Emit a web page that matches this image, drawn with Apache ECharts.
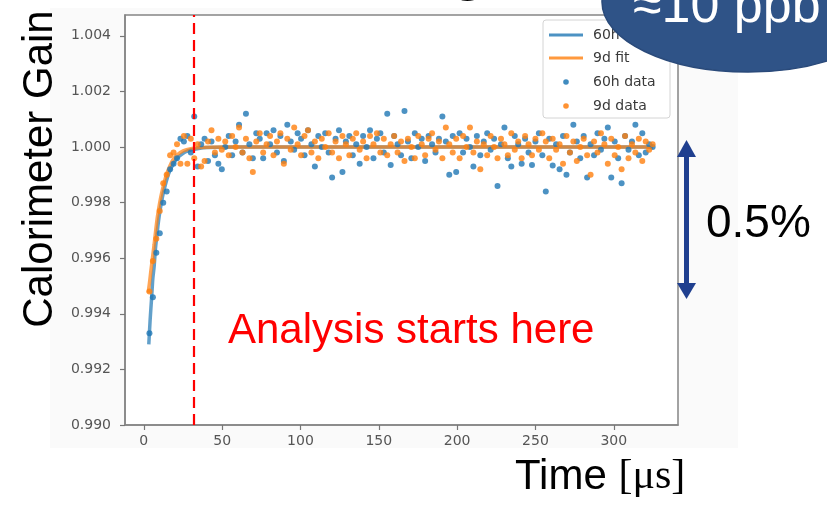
<!DOCTYPE html>
<html>
<head>
<meta charset="utf-8">
<script src="https://cdn.jsdelivr.net/npm/echarts@6/dist/echarts.min.js"></script>
<style>
  html, body { margin: 0; padding: 0; background: #ffffff; }
  #chart { width: 827px; height: 505px; }
</style>
</head>
<body>
<div id="chart"></div>
<script>
// Bin centres (µs) shared by both calibration runs
const times = [3.6, 5.8, 8.0, 10.2, 12.4, 14.6, 16.8, 19.0, 21.2, 23.4, 25.6, 27.8, 30.0, 32.2, 34.4, 36.6, 38.8, 41.0, 43.2, 45.4,
  47.6, 49.8, 52.0, 54.2, 56.4, 58.6, 60.8, 63.0, 65.2, 67.4, 69.6, 71.8, 74.0, 76.2, 78.4, 80.6, 82.8, 85.0, 87.2, 89.4,
  91.6, 93.8, 96.0, 98.2, 100.4, 102.6, 104.8, 107.0, 109.2, 111.4, 113.6, 115.8, 118.0, 120.2, 122.4, 124.6, 126.8, 129.0, 131.2, 133.4,
  135.6, 137.8, 140.0, 142.2, 144.4, 146.6, 148.8, 151.0, 153.2, 155.4, 157.6, 159.8, 162.0, 164.2, 166.4, 168.6, 170.8, 173.0, 175.2, 177.4,
  179.6, 181.8, 184.0, 186.2, 188.4, 190.6, 192.8, 195.0, 197.2, 199.4, 201.6, 203.8, 206.0, 208.2, 210.4, 212.6, 214.8, 217.0, 219.2, 221.4,
  223.6, 225.8, 228.0, 230.2, 232.4, 234.6, 236.8, 239.0, 241.2, 243.4, 245.6, 247.8, 250.0, 252.2, 254.4, 256.6, 258.8, 261.0, 263.2, 265.4,
  267.6, 269.8, 272.0, 274.2, 276.4, 278.6, 280.8, 283.0, 285.2, 287.4, 289.6, 291.8, 294.0, 296.2, 298.4, 300.6, 302.8, 305.0, 307.2, 309.4,
  311.6, 313.8, 316.0, 318.2, 320.4, 322.6, 324.8];

// Relative gain per bin, 60 h dataset
const gain60h = [0.9933, 0.9946, 0.9962, 0.9969, 0.9980, 0.9984, 0.9992, 0.9994, 0.9996, 1.0003, 1.0002, 1.0004, 0.9998, 1.0011, 0.9993, 1.0001, 1.0003, 0.9995, 1.0002, 0.9997,
  0.9994, 0.9992, 1.0000, 1.0004, 0.9997, 1.0002, 1.0008, 0.9998, 1.0012, 1.0001, 0.9996, 1.0005, 1.0003, 0.9996, 1.0005, 1.0001, 1.0006, 0.9998, 1.0004, 0.9995,
  1.0008, 1.0002, 0.9999, 1.0005, 1.0003, 0.9997, 1.0006, 1.0001, 0.9993, 1.0004, 1.0000, 1.0005, 0.9998, 0.9989, 1.0003, 1.0006, 0.9991, 1.0002, 1.0004, 0.9997,
  1.0001, 0.9994, 1.0004, 1.0000, 1.0006, 0.9996, 1.0003, 1.0005, 0.9998, 1.0012, 0.99935, 1.0004, 1.0001, 0.9997, 1.0013, 1.0002, 0.9996, 1.0005, 1.0000, 1.0003,
  0.9995, 1.0004, 1.0001, 0.9998, 1.0003, 1.0011, 1.0002, 0.9990, 1.0004, 0.9991, 1.0005, 0.9998, 1.0003, 1.0000, 0.9993, 1.0004, 0.9997, 1.0002, 1.0005, 0.9999,
  1.0003, 0.9986, 1.0001, 1.0007, 0.9996, 0.9993, 1.0004, 1.0001, 0.9994, 1.0003, 0.9998, 0.99935, 1.0002, 1.0005, 0.9997, 0.9984, 1.0003, 0.99934, 1.0001, 0.9992,
  1.0004, 0.9990, 0.9998, 1.0008, 1.0002, 0.9996, 1.0004, 0.9989, 1.0001, 0.9997, 1.0005, 0.9999, 1.0003, 1.0007, 0.9989, 1.0002, 0.9996, 0.9987, 1.0004, 0.9999,
  1.0002, 1.0008, 0.9997, 1.0005, 0.9998, 1.0001, 1.0000];

// Relative gain per bin, 9 d dataset
const gain9d = [0.9948, 0.9959, 0.9967, 0.9977, 0.9987, 0.9990, 0.9997, 0.9998, 1.0001, 0.9994, 1.0004, 0.9994, 1.0003, 0.9996, 1.0001, 0.9993, 0.9995, 1.0002, 1.0006, 0.9998,
  1.0003, 0.9999, 1.0002, 0.9997, 1.0004, 1.0000, 1.0007, 0.9998, 1.0003, 0.9996, 0.9991, 1.0002, 1.0005, 0.9998, 1.0001, 1.0004, 0.9997, 1.0002, 1.0005, 0.9994,
  1.0003, 0.9999, 1.0007, 1.0001, 0.9997, 1.0004, 1.0006, 0.9998, 1.0002, 0.9996, 1.0003, 1.0000, 1.0005, 0.9998, 1.0002, 0.9996, 1.0004, 1.0001, 0.9997, 1.0003,
  1.0005, 0.9999, 1.0002, 0.9996, 1.0004, 1.0001, 1.0005, 0.9998, 1.0003, 0.9997, 1.0001, 1.0004, 0.9998, 1.0002, 0.9995, 1.0003, 1.0000, 0.9996, 1.0004, 1.0001,
  0.9997, 1.0003, 1.0005, 0.9999, 1.0002, 0.9996, 1.0007, 1.0001, 0.9998, 1.0003, 0.9996, 1.0004, 1.0000, 1.0007, 0.9998, 1.0002, 0.9992, 1.0001, 0.9997, 1.0004,
  1.0000, 0.9996, 1.0003, 1.0001, 0.9997, 1.0005, 0.9999, 1.0002, 0.9996, 1.0004, 1.0001, 0.9997, 1.0003, 0.9999, 1.0005, 1.0002, 0.9996, 1.0003, 0.9999, 1.0001,
  0.9994, 1.0004, 0.9998, 1.0002, 0.9995, 1.0000, 1.0003, 0.9997, 0.9990, 1.0002, 0.9998, 1.0005, 1.0001, 0.9994, 1.0003, 0.9997, 1.0000, 0.9992, 1.0004, 0.9996,
  1.0001, 0.9998, 1.0003, 0.9995, 1.0002, 0.9999, 1.0001];

// Fitted recovery curves
const fit60hTimes = [3.2, 4.0, 4.9, 5.8, 6.6, 7.4, 8.1, 9.0, 9.8, 10.6, 11.3, 12.4, 13.4, 15.0, 16.6, 18.5, 20.0, 21.9, 24.0, 26.5, 30.4, 35.0, 40.0, 60.0, 325.0];
const fit60hGain = [0.99290, 0.99374, 0.99450, 0.99529, 0.99570, 0.99632, 0.99670, 0.99715, 0.99750, 0.99779, 0.99802, 0.99833, 0.99856, 0.99889, 0.99914, 0.99936, 0.99950, 0.99963, 0.99973, 0.99982, 0.99990, 0.99995, 0.99998, 1.00000, 1.00000];
const fit9dTimes = [2.8, 3.6, 4.5, 5.5, 6.6, 7.6, 8.7, 10.0, 11.3, 12.9, 14.5, 16.5, 18.7, 21.5, 25.1, 30.0, 36.0, 50.0, 323.0];
const fit9dGain = [0.99476, 0.99510, 0.99554, 0.99600, 0.99650, 0.99700, 0.99750, 0.99795, 0.99832, 0.99870, 0.99902, 0.99930, 0.99955, 0.99973, 0.99986, 0.99994, 0.99998, 1.00000, 1.00000];

const xTicks = [0, 50, 100, 150, 200, 250, 300];
const yTicks = [0.990, 0.992, 0.994, 0.996, 0.998, 1.000, 1.002, 1.004];
const analysisStart = 32;

const pairs = (xs, ys) => xs.map((x, i) => [x, ys[i]]);

const C_BLUE = '#1f77b4';
const C_ORANGE = '#ff7f0e';
const TICK_FONT = 'DejaVu Sans';

const chart = echarts.init(document.getElementById('chart'), null, { renderer: 'canvas' });

const legendItems = [
  { label: '60h fit', kind: 'line', color: C_BLUE, y: 35 },
  { label: '9d fit', kind: 'line', color: C_ORANGE, y: 58 },
  { label: '60h data', kind: 'dot', color: C_BLUE, y: 82 },
  { label: '9d data', kind: 'dot', color: C_ORANGE, y: 106 }
];

const legendGraphics = [{
  type: 'rect', z: 20,
  shape: { x: 543, y: 20, width: 127, height: 98, r: 3 },
  style: { fill: 'rgba(255,255,255,0.85)', stroke: '#d4d4d4', lineWidth: 1 }
}];
legendItems.forEach(it => {
  if (it.kind === 'line') {
    legendGraphics.push({
      type: 'line', z: 21,
      shape: { x1: 549, y1: it.y, x2: 583, y2: it.y },
      style: { stroke: it.color, lineWidth: 3, opacity: 0.8 }
    });
  } else {
    legendGraphics.push({
      type: 'circle', z: 21,
      shape: { cx: 566, cy: it.y, r: 2.8 },
      style: { fill: it.color, opacity: 0.85 }
    });
  }
  legendGraphics.push({
    type: 'text', z: 21, x: 593, y: it.y,
    style: { text: it.label, fill: '#3a3a3a', fontSize: 14, fontFamily: TICK_FONT, align: 'left', verticalAlign: 'middle' }
  });
});

const option = {
  animation: false,
  backgroundColor: '#ffffff',
  grid: {
    left: 125, right: 149, top: 15, bottom: 80,
    show: true, backgroundColor: '#ffffff', borderColor: '#858585', borderWidth: 1.5
  },
  xAxis: {
    type: 'value', min: -12, max: 341,
    axisLine: { show: true, onZero: false, lineStyle: { color: '#858585', width: 1.5 } },
    axisTick: { show: true, length: 5, customValues: xTicks, lineStyle: { color: '#777', width: 1.2 } },
    axisLabel: { customValues: xTicks, color: '#555', fontSize: 14, fontFamily: TICK_FONT, margin: 9 },
    splitLine: { show: false }
  },
  yAxis: {
    type: 'value', min: 0.990, max: 1.00475,
    axisLine: { show: true, onZero: false, lineStyle: { color: '#858585', width: 1.5 } },
    axisTick: { show: true, length: 5, customValues: yTicks, lineStyle: { color: '#777', width: 1.2 } },
    axisLabel: { customValues: yTicks, color: '#555', fontSize: 14, fontFamily: TICK_FONT, margin: 14,
      formatter: v => v.toFixed(3) },
    splitLine: { show: false }
  },
  series: [
    {
      name: '60h fit', type: 'line', data: pairs(fit60hTimes, fit60hGain),
      showSymbol: false, smooth: 0.3, z: 3,
      lineStyle: { color: C_BLUE, width: 3.5, opacity: 0.7 }
    },
    {
      name: '9d fit', type: 'line', data: pairs(fit9dTimes, fit9dGain),
      showSymbol: false, smooth: 0.3, z: 3,
      lineStyle: { color: C_ORANGE, width: 3.5, opacity: 0.7 }
    },
    {
      name: '60h data', type: 'scatter', data: pairs(times, gain60h),
      symbolSize: 6, z: 4,
      itemStyle: { color: C_BLUE, opacity: 0.8 }
    },
    {
      name: '9d data', type: 'scatter', data: pairs(times, gain9d),
      symbolSize: 6, z: 4,
      itemStyle: { color: C_ORANGE, opacity: 0.8 },
      markLine: {
        silent: true, symbol: 'none', label: { show: false },
        lineStyle: { color: '#ff0000', type: [11, 6], width: 2.2, opacity: 1 },
        data: [{ xAxis: analysisStart }]
      }
    }
  ],
  graphic: [
    // faint backdrop of the embedded plot image
    { type: 'rect', z: -10, shape: { x: 50, y: 8, width: 688, height: 440 }, style: { fill: '#fafafa' } },
    ...legendGraphics,
    // axis titles
    {
      type: 'text', z: 30, x: 40, y: 169, rotation: Math.PI / 2,
      style: { text: 'Calorimeter Gain', fill: '#000', fontSize: 42, fontFamily: 'Liberation Sans', align: 'center', verticalAlign: 'middle' }
    },
    {
      type: 'text', z: 30, x: 515, y: 477,
      style: {
        text: '{a|Time }{b|[μs]}', align: 'left', verticalAlign: 'middle',
        rich: {
          a: { fontSize: 42, fontFamily: 'Liberation Sans', fill: '#000', lineHeight: 46 },
          b: { fontSize: 42, fontFamily: 'Liberation Serif', fill: '#000', lineHeight: 46 }
        }
      }
    },
    {
      type: 'text', z: 30, x: 228, y: 331,
      style: { text: 'Analysis starts here', fill: '#ff0000', fontSize: 42, fontFamily: 'Liberation Sans', align: 'left', verticalAlign: 'middle' }
    },
    // 0.5 % span marker
    { type: 'line', z: 30, shape: { x1: 686.5, y1: 152, x2: 686.5, y2: 288 }, style: { stroke: '#1f3f8f', lineWidth: 5 } },
    { type: 'polygon', z: 30, shape: { points: [[686.5, 140], [677, 157], [696, 157]] }, style: { fill: '#1f3f8f' } },
    { type: 'polygon', z: 30, shape: { points: [[686.5, 299], [677, 283], [696, 283]] }, style: { fill: '#1f3f8f' } },
    {
      type: 'text', z: 30, x: 706, y: 224,
      style: { text: '0.5%', fill: '#000', fontSize: 46, fontFamily: 'Liberation Sans', align: 'left', verticalAlign: 'middle' }
    },
    // slide title fragment above the plot
    {
      type: 'text', z: 30, x: 451, y: -26,
      style: { text: 'g', fill: '#000', fontSize: 56, fontWeight: 'bold', fontFamily: 'Liberation Sans', align: 'left', verticalAlign: 'middle' }
    },
    // callout bubble
    {
      type: 'ellipse', z: 40, shape: { cx: 748, cy: 2, rx: 146, ry: 70 },
      style: { fill: '#2f5387', stroke: '#2a4a7a', lineWidth: 1.5 }
    },
    {
      type: 'text', z: 41, x: 633, y: 8,
      style: { text: '≈10 ppb', fill: '#ffffff', fontSize: 52, fontFamily: 'Liberation Sans', align: 'left', verticalAlign: 'middle' }
    }
  ]
};

chart.setOption(option);
</script>
</body>
</html>
